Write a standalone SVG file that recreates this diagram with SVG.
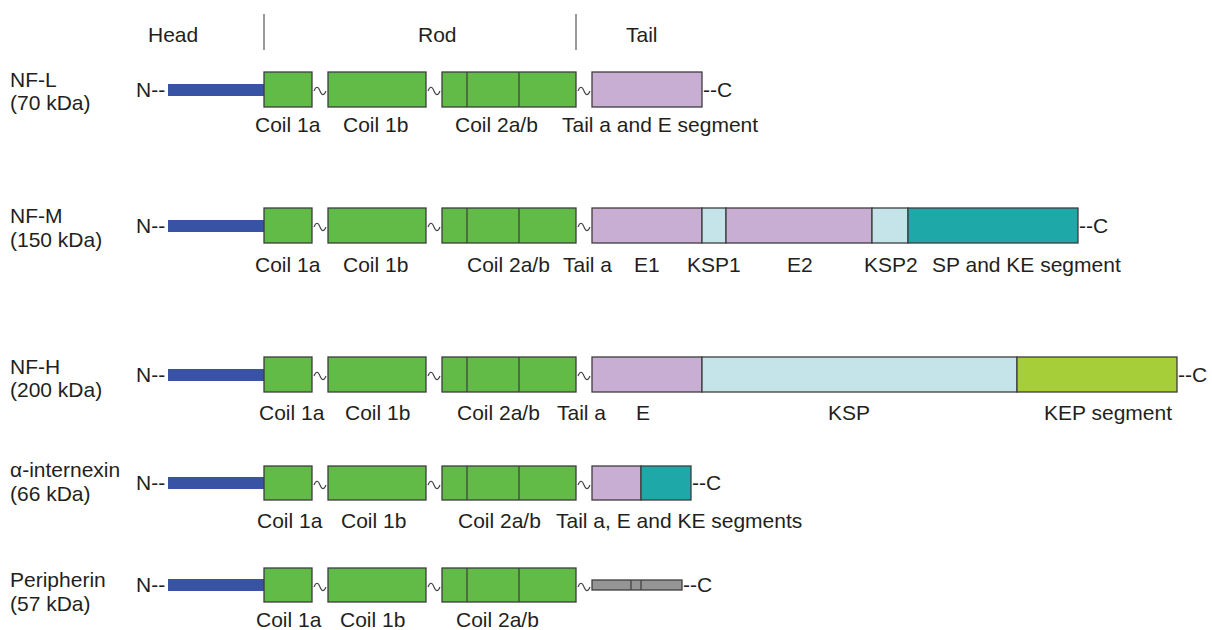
<svg xmlns="http://www.w3.org/2000/svg" width="1212" height="630" viewBox="0 0 1212 630">
<style>
text{font-family:"Liberation Sans",Arial,sans-serif;font-size:21px;fill:#231f20}
.box{stroke:#3d3d3d;stroke-width:1.3}
.g{fill:#62bb46}.b{fill:#3953a4}.p{fill:#c8aed2}.lb{fill:#c4e4ea}.t{fill:#1fa8a8}.y{fill:#a6ce39}.gr{fill:#959595}
.div{stroke:#3d3d3d;stroke-width:1.2}
.tl{fill:none;stroke:#3d3d3d;stroke-width:1.1}
.hdr{stroke:#555;stroke-width:1.2}
</style>
<g id="header">
<line class="hdr" x1="264" y1="14" x2="264" y2="50"/>
<line class="hdr" x1="576" y1="14" x2="576" y2="50"/>
<text x="148" y="42">Head</text>
<text x="418" y="42">Rod</text>
<text x="626" y="42">Tail</text>
</g>
<g id="connectors">
<path class="tl" d="M314,91 c2,-5 4,-5 6,0 s4,5 6,0"/>
<path class="tl" d="M428,91 c2,-5 4,-5 6,0 s4,5 6,0"/>
<path class="tl" d="M578,91 c2,-5 4,-5 6,0 s4,5 6,0"/>
<path class="tl" d="M314,227 c2,-5 4,-5 6,0 s4,5 6,0"/>
<path class="tl" d="M428,227 c2,-5 4,-5 6,0 s4,5 6,0"/>
<path class="tl" d="M578,227 c2,-5 4,-5 6,0 s4,5 6,0"/>
<path class="tl" d="M314,376 c2,-5 4,-5 6,0 s4,5 6,0"/>
<path class="tl" d="M428,376 c2,-5 4,-5 6,0 s4,5 6,0"/>
<path class="tl" d="M578,376 c2,-5 4,-5 6,0 s4,5 6,0"/>
<path class="tl" d="M314,485 c2,-5 4,-5 6,0 s4,5 6,0"/>
<path class="tl" d="M428,485 c2,-5 4,-5 6,0 s4,5 6,0"/>
<path class="tl" d="M578,485 c2,-5 4,-5 6,0 s4,5 6,0"/>
<path class="tl" d="M314,587 c2,-5 4,-5 6,0 s4,5 6,0"/>
<path class="tl" d="M428,587 c2,-5 4,-5 6,0 s4,5 6,0"/>
<path class="tl" d="M578,587 c2,-5 4,-5 6,0 s4,5 6,0"/>
</g>
<g id="nf-l">
<text x="10" y="87">NF-L</text>
<text x="10" y="110">(70 kDa)</text>
<text x="136" y="97">N--</text>
<rect class="b" x="168" y="84" width="96" height="12"/>
<rect class="box g" x="264" y="72" width="48" height="35"/>
<rect class="box g" x="328" y="72" width="98" height="35"/>
<rect class="box g" x="442" y="72" width="134" height="35"/>
<line class="div" x1="467" y1="72" x2="467" y2="107"/>
<line class="div" x1="519" y1="72" x2="519" y2="107"/>
<rect class="box p" x="592" y="72" width="110" height="35"/>
<text x="703" y="97">--C</text>
<text x="255" y="132">Coil 1a</text>
<text x="343" y="132">Coil 1b</text>
<text x="455" y="132">Coil 2a/b</text>
<text x="562" y="132">Tail a and E segment</text>
</g>
<g id="nf-m">
<text x="10" y="223">NF-M</text>
<text x="10" y="247">(150 kDa)</text>
<text x="136" y="233">N--</text>
<rect class="b" x="168" y="220" width="96" height="12"/>
<rect class="box g" x="264" y="208" width="48" height="35"/>
<rect class="box g" x="328" y="208" width="98" height="35"/>
<rect class="box g" x="442" y="208" width="134" height="35"/>
<line class="div" x1="467" y1="208" x2="467" y2="243"/>
<line class="div" x1="519" y1="208" x2="519" y2="243"/>
<rect class="box p" x="592" y="208" width="110" height="35"/>
<rect class="box lb" x="702" y="208" width="24" height="35"/>
<rect class="box p" x="726" y="208" width="146" height="35"/>
<rect class="box lb" x="872" y="208" width="36" height="35"/>
<rect class="box t" x="908" y="208" width="170" height="35"/>
<text x="1079" y="233">--C</text>
<text x="255" y="272">Coil 1a</text>
<text x="343" y="272">Coil 1b</text>
<text x="467" y="272">Coil 2a/b</text>
<text x="563" y="272">Tail a</text>
<text x="634" y="272">E1</text>
<text x="687" y="272">KSP1</text>
<text x="787" y="272">E2</text>
<text x="864" y="272">KSP2</text>
<text x="932" y="272">SP and KE segment</text>
</g>
<g id="nf-h">
<text x="10" y="374">NF-H</text>
<text x="10" y="397">(200 kDa)</text>
<text x="136" y="382">N--</text>
<rect class="b" x="168" y="369" width="96" height="12"/>
<rect class="box g" x="264" y="357" width="48" height="35"/>
<rect class="box g" x="328" y="357" width="98" height="35"/>
<rect class="box g" x="442" y="357" width="134" height="35"/>
<line class="div" x1="467" y1="357" x2="467" y2="392"/>
<line class="div" x1="519" y1="357" x2="519" y2="392"/>
<rect class="box p" x="592" y="357" width="110" height="35"/>
<rect class="box lb" x="702" y="357" width="315" height="35"/>
<rect class="box y" x="1017" y="357" width="160" height="35"/>
<text x="1178" y="382">--C</text>
<text x="259" y="420">Coil 1a</text>
<text x="345" y="420">Coil 1b</text>
<text x="457" y="420">Coil 2a/b</text>
<text x="557" y="420">Tail a</text>
<text x="636" y="420">E</text>
<text x="828" y="420">KSP</text>
<text x="1044" y="420">KEP segment</text>
</g>
<g id="alpha-internexin">
<text x="10" y="477">α-internexin</text>
<text x="10" y="501">(66 kDa)</text>
<text x="136" y="490">N--</text>
<rect class="b" x="168" y="477" width="96" height="12"/>
<rect class="box g" x="264" y="466" width="48" height="34"/>
<rect class="box g" x="328" y="466" width="98" height="34"/>
<rect class="box g" x="442" y="466" width="134" height="34"/>
<line class="div" x1="467" y1="466" x2="467" y2="500"/>
<line class="div" x1="519" y1="466" x2="519" y2="500"/>
<rect class="box p" x="592" y="466" width="49" height="34"/>
<rect class="box t" x="641" y="466" width="50" height="34"/>
<text x="692" y="490">--C</text>
<text x="257" y="528">Coil 1a</text>
<text x="341" y="528">Coil 1b</text>
<text x="458" y="528">Coil 2a/b</text>
<text x="556" y="528">Tail a, E and KE segments</text>
</g>
<g id="peripherin">
<text x="10" y="587">Peripherin</text>
<text x="10" y="611">(57 kDa)</text>
<text x="136" y="592">N--</text>
<rect class="b" x="168" y="579" width="96" height="12"/>
<rect class="box g" x="264" y="568" width="48" height="34"/>
<rect class="box g" x="328" y="568" width="98" height="34"/>
<rect class="box g" x="442" y="568" width="134" height="34"/>
<line class="div" x1="467" y1="568" x2="467" y2="602"/>
<line class="div" x1="519" y1="568" x2="519" y2="602"/>
<rect class="box gr" x="592" y="580" width="90" height="10"/>
<line class="div" x1="631" y1="580" x2="631" y2="590"/>
<line class="div" x1="641" y1="580" x2="641" y2="590"/>
<text x="683" y="592">--C</text>
<text x="256" y="627">Coil 1a</text>
<text x="340" y="627">Coil 1b</text>
<text x="456" y="627">Coil 2a/b</text>
</g>
</svg>
